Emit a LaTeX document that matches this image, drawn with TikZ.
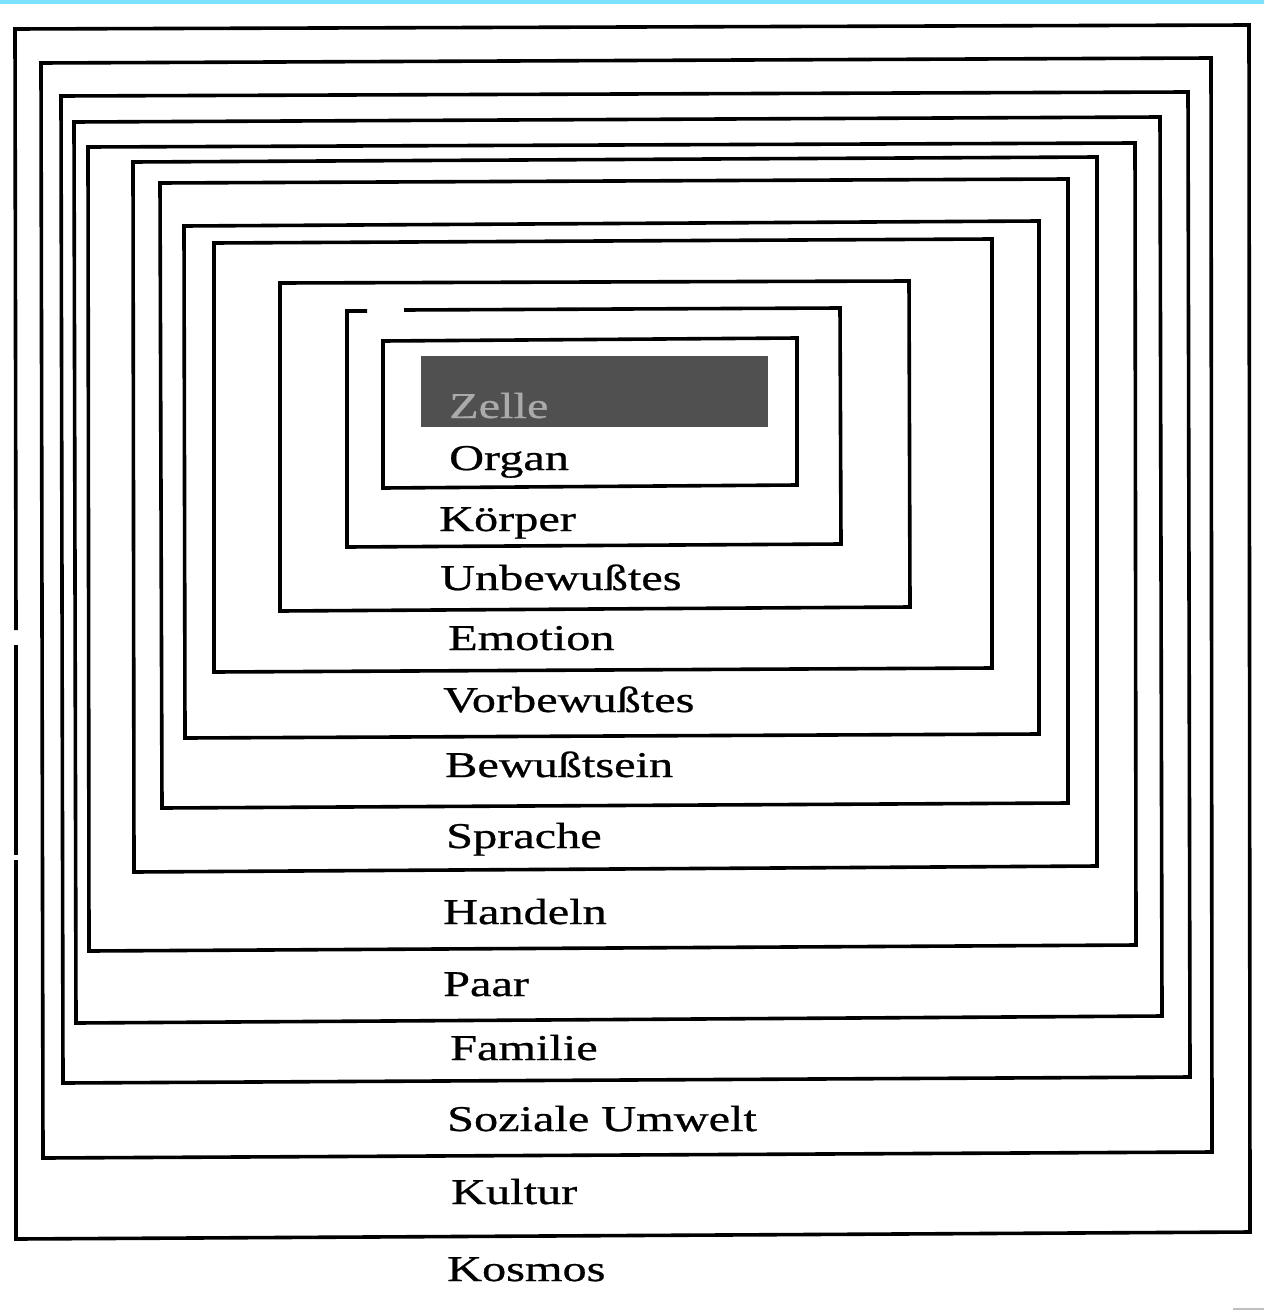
\documentclass[tikz,border=0pt]{standalone}
\usepackage{fontspec}
\setmainfont{Liberation Serif}[FakeStretch=1.33, BoldFont={Liberation Serif}, BoldFeatures={FakeBold=0.7}]
\definecolor{topbar}{RGB}{125,226,255}
\definecolor{zellfill}{RGB}{80,80,80}
\definecolor{zelltext}{RGB}{170,170,170}
\begin{document}
\begin{tikzpicture}[x=1pt,y=-1pt,
  frame/.style={line width=3.6pt, line join=miter, draw=black},
  lab/.style={anchor=base west, inner sep=0pt, font=\fontsize{36.3}{40}\selectfont\bfseries}]
\useasboundingbox (0,0) rectangle (1264,1311);
\fill[white] (0,0) rectangle (1264,1311);
\fill[topbar] (0,0) rectangle (1264,4.5);

% outermost frame (Kultur / Kosmos) with small breaks on the left edge
\draw[frame] (16,630) -- (15,29) -- (1249,25) -- (1250,1232) -- (16,1239) -- (16,860);
\draw[frame] (16,855) -- (16,645);
% nested frames
\draw[frame] (41,63) -- (1211,58) -- (1212,1152) -- (43,1158) -- cycle;
\draw[frame] (61,96) -- (1188,92) -- (1190,1077) -- (63,1083) -- cycle;
\draw[frame] (74,122) -- (1160,117) -- (1162,1016) -- (76,1023) -- cycle;
\draw[frame] (88,147) -- (1135,143) -- (1136,945) -- (89,951) -- cycle;
\draw[frame] (133,162) -- (1097,157) -- (1097,866) -- (134,872) -- cycle;
\draw[frame] (160,183) -- (1068,179) -- (1068,803) -- (162,808) -- cycle;
\draw[frame] (184,226) -- (1039,221) -- (1039,734) -- (185,738) -- cycle;
\draw[frame] (214,243) -- (992,239) -- (992,668) -- (214,672) -- cycle;
\draw[frame] (280,283) -- (909,281) -- (910,607) -- (280,611) -- cycle;
% Koerper frame, with a gap at its top left
\draw[frame] (404,310) -- (840,308) -- (841,544) -- (347,547) -- (347,311) -- (367,311);
% Organ frame
\draw[frame] (383,341) -- (797,338) -- (797,485) -- (383,488) -- cycle;
% Zelle shaded box
\fill[zellfill] (421,356) rectangle (768,427);

\node[lab, text=zelltext] (zelle) at (449,418) {Zelle};
\node[lab] (organ) at (449,470) {Organ};
\node[lab] (koerper) at (439,531) {Körper};
\node[lab] (unbew) at (440,590) {Unbewußtes};
\node[lab] (emotion) at (448,650) {Emotion};
\node[lab] (vorbew) at (443,712) {Vorbewußtes};
\node[lab] (bewusst) at (445,777) {Bewußtsein};
\node[lab] (sprache) at (446,848) {Sprache};
\node[lab] (handeln) at (443,924) {Handeln};
\node[lab] (paar) at (443,996) {Paar};
\node[lab] (familie) at (450,1060) {Familie};
\node[lab] (sozial) at (447,1131) {Soziale Umwelt};
\node[lab] (kultur) at (451,1204) {Kultur};
\node[lab] (kosmos) at (447,1281) {Kosmos};

\draw[gray!50, line width=1.5pt] (1233,1309) -- (1264,1309);
\end{tikzpicture}
\end{document}
